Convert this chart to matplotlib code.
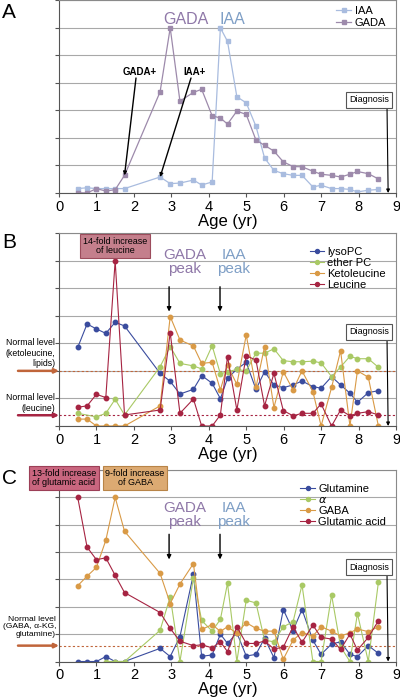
import numpy as np
import matplotlib
matplotlib.use("Agg")
import matplotlib.pyplot as plt

plt.rcParams['font.family'] = ['Liberation Sans', 'DejaVu Sans']

nan = np.nan
ages = [0.5, 0.75, 1.0, 1.25, 1.5, 1.75, 2.7, 2.97, 3.23, 3.59, 3.81, 4.09, 4.31, 4.5, 4.75,
        5.0, 5.26, 5.49, 5.74, 5.99, 6.25, 6.49, 6.78, 7.0, 7.28, 7.52, 7.77, 7.97, 8.26, 8.53]

# panel A: autoantibodies
iaa = [0.16, 0.19, 0.16, 0.16, 0.16, 0.16, 0.58, 0.34, 0.36, 0.47, 0.29, 0.40, 5.99, 5.50, 3.49,
       3.27, 2.42, 1.27, 0.82, 0.70, 0.64, 0.64, 0.22, 0.28, 0.16, 0.16, 0.13, 0.04, 0.10, 0.13]
gada = [0.01, 0.0, 0.16, 0.07, 0.12, 0.64, 3.67, 5.99, 3.33, 3.65, 3.76, 2.80, 2.72, 2.50, 2.97,
        2.85, 1.92, 1.73, 1.52, 1.13, 0.96, 0.95, 0.79, 0.68, 0.64, 0.58, 0.68, 0.78, 0.70, 0.51]

# panel B
lysopc = [2.85, 3.70, 3.52, 3.36, 3.76, 3.63, 1.91, 1.62, 1.16, 1.33, 1.83, 1.55, 0.99, 1.73, 2.06,
          2.31, 1.33, 1.97, 1.49, 1.39, 1.49, 1.63, 1.43, 1.37, 1.79, 1.49, 1.19, 0.86, 1.21, 1.28]
etherpc = [0.46, nan, 0.33, 0.46, 0.97, 0.40, 2.15, 2.88, 2.27, 2.18, 2.07, 2.91, 1.89, 1.97, 2.05,
           2.0, 2.64, 2.64, 2.80, 2.37, 2.33, 2.33, 2.35, 2.29, 1.79, 2.14, 2.53, 2.44, 2.44, 2.13]
ketoleucine = [0.25, 0.25, 0, 0, 0, 0, 0.73, 3.97, 3.12, 2.90, 2.27, 2.31, 1.31, 2.20, 1.51,
               3.30, 1.40, 2.88, 0.67, 1.97, 1.31, 2.0, 1.25, 0, 1.40, 2.73, 0, 2.0, 1.77, 0]
leucine = [0.68, 0.73, 1.15, 1.03, 5.99, 0.40, 0.58, 3.39, 0.46, 0.98, 0, 0, 0.40, 2.52, 0.58,
           2.55, 2.39, 0.73, 1.91, 0.56, 0.37, 0.46, 0.46, 0.80, 0, 0.58, 0.37, 0.46, 0.52, 0.40]
normal_keto = 2.0
normal_leu = 0.39

# panel C
glutamine = [0, 0, 0, 0.18, 0, 0, 0.48, 0.18, 0.91, 3.19, 0.19, 0.24, 1.0, 0.66, 1.05,
             0.20, 0.26, 0.85, 0.14, 1.90, 1.13, 1.90, 0.78, 0.26, 0.64, 0.72, 0.26, 0.18, 0.58, 0.30]
alpha_kg = [nan, nan, nan, 0, 0, 0, 1.14, 2.37, 0, 3.06, 1.50, 1.11, 1.54, 2.86, 0,
            2.24, 2.14, 0.78, 0.72, 1.27, 1.45, 2.80, 0, 0, 2.43, 0.54, 0, 1.75, 0, 2.90]
gaba = [2.77, 3.12, 3.44, 4.43, 6.0, 4.76, 3.22, 2.12, 2.83, 3.58, 1.17, 1.35, 1.1, 1.27, 1.03,
        1.42, 1.21, 1.11, 1.11, 0.08, 0.78, 1.06, 0.93, 1.27, 1.11, 0.93, 1.05, 1.19, 1.09, 1.27]
glutamic = [6.0, 4.18, 3.72, 3.79, 3.15, 2.52, 1.79, 1.21, 0.74, 0.58, 0.61, 0.50, 0.72, 0.36, 1.27,
            0.66, 0.66, 0.75, 0.46, 0.52, 1.27, 0.70, 1.33, 0.88, 0.82, 0.44, 1.0, 0.42, 0.88, 1.49]
normal_c = 0.58

diagnosis_age = 8.79
gada_peak, iaa_peak = 2.94, 4.3

BLUE, GREEN, ORANGE, RED = '#3a4c9e', '#a9c965', '#d99a46', '#a62442'
C_IAA, C_GADA = '#a9bcdf', '#9d8aab'
T_GADA, T_IAA = '#8f78a8', '#7f9fc6'

W, H = 400, 697
fig = plt.figure(figsize=(W / 100, H / 100), dpi=100)


def fx(px):
    return px / W


def fy(py):
    return 1 - py / H


def make_axes(top, bottom):
    ax = fig.add_axes([fx(59), fy(bottom), fx(396) - fx(59), (bottom - top) / H])
    ax.set_xlim(0, 9)
    ax.set_ylim(0, 7)
    ax.set_xticks(range(10))
    ax.set_yticks(range(8))
    ax.set_yticklabels([])
    ax.grid(axis='y', color='#a8a8a8', lw=0.8)
    ax.set_axisbelow(True)
    for s in ax.spines.values():
        s.set_color('#8a8a8a')
    ax.spines['left'].set_color('#555555')
    ax.spines['bottom'].set_color('#555555')
    ax.tick_params(axis='x', labelsize=10.5, length=3, color='#555555', pad=2)
    ax.tick_params(axis='y', length=3, color='#555555')
    ax.set_xlabel('Age (yr)', fontsize=12, labelpad=0)
    return ax


def series(ax, y, color, label, ms=3.2, marker='o', lw=0.8):
    x = np.array(ages)
    y = np.array(y, dtype=float)
    m = ~np.isnan(y)
    ax.plot(x[m], y[m], color=color, lw=lw, marker=marker, ms=ms, label=label)


def diagnosis(ax, box_y):
    fig.text(fx(369), fy(box_y), 'Diagnosis', fontsize=6.5, ha='center', va='center',
             bbox=dict(boxstyle='square,pad=0.35', fc='white', ec='#555555', lw=0.8))
    ax.annotate('', xy=(diagnosis_age, 0), xytext=(fx(387), fy(box_y + 6)),
                textcoords='figure fraction',
                arrowprops=dict(arrowstyle='-|>', color='black', lw=0.8, mutation_scale=5,
                                shrinkA=0, shrinkB=0))


def peaks(ax, y_text, y_arrow_top, y_arrow_bot):
    fig.text(fx(185), fy(y_text), 'GADA\npeak', color=T_GADA, fontsize=11, ha='center',
             va='center', linespacing=1.05)
    fig.text(fx(234), fy(y_text), 'IAA\npeak', color=T_IAA, fontsize=11, ha='center',
             va='center', linespacing=1.05)
    for a in (gada_peak, iaa_peak):
        ax.annotate('', xy=(a, y_arrow_bot), xytext=(a, y_arrow_top),
                    arrowprops=dict(arrowstyle='-|>', color='black', lw=1.0, mutation_scale=6,
                                    shrinkA=0, shrinkB=0))


def normal_arrow(ax, level, color):
    ax.annotate('', xy=(0, level), xycoords=('axes fraction', 'data'),
                xytext=(fx(18), level), textcoords=('figure fraction', 'data'),
                arrowprops=dict(arrowstyle='-|>', color=color, lw=1.8, mutation_scale=6,
                                shrinkA=0, shrinkB=0), annotation_clip=False)
    ax.axhline(level, color=color, lw=0.8, ls=(0, (2, 2)))


# ---------------- A ----------------
axA = make_axes(0, 193)
series(axA, iaa, C_IAA, 'IAA', ms=2.2, marker='s', lw=0.9)
series(axA, gada, C_GADA, 'GADA', ms=2.2, marker='s', lw=0.9)
axA.legend(loc='upper right', bbox_to_anchor=(1.0, 1.02), frameon=False, fontsize=8,
           handlelength=1.4, handletextpad=0.3, labelspacing=0.15)
fig.text(fx(2), fy(12), 'A', fontsize=15, va='center')
fig.text(fx(186), fy(20), 'GADA', color=T_GADA, fontsize=11.5, ha='center', va='center')
fig.text(fx(232), fy(20), 'IAA', color=T_IAA, fontsize=11.5, ha='center', va='center')
fig.text(fx(140), fy(72), 'GADA+', fontsize=7, fontweight='bold', ha='center', va='center')
fig.text(fx(195), fy(72), 'IAA+', fontsize=7, fontweight='bold', ha='center', va='center')
axA.annotate('', xy=(ages[5], gada[5]), xytext=(fx(136), fy(78)), textcoords='figure fraction',
             arrowprops=dict(arrowstyle='-|>', color='black', lw=1.0, mutation_scale=5,
                             shrinkA=0, shrinkB=0))
axA.annotate('', xy=(ages[6], iaa[6]), xytext=(fx(191), fy(78)), textcoords='figure fraction',
             arrowprops=dict(arrowstyle='-|>', color='black', lw=1.0, mutation_scale=5,
                             shrinkA=0, shrinkB=0))
diagnosis(axA, 100)

# ---------------- B ----------------
axB = make_axes(233, 426)
normal_arrow(axB, normal_keto, '#c0653a')
normal_arrow(axB, normal_leu, '#a62442')
series(axB, lysopc, BLUE, 'lysoPC')
series(axB, etherpc, GREEN, 'ether PC')
series(axB, ketoleucine, ORANGE, 'Ketoleucine')
series(axB, leucine, RED, 'Leucine')
axB.legend(loc='upper right', bbox_to_anchor=(1.0, 0.98), frameon=False, fontsize=8,
           handlelength=1.3, handletextpad=0.3, labelspacing=0.1, markerscale=0.9)
fig.text(fx(2), fy(243), 'B', fontsize=15, va='center')
fig.text(fx(115), fy(246), '14-fold increase\nof leucine', fontsize=6.5, ha='center', va='center',
         linespacing=0.95,
         bbox=dict(boxstyle='square,pad=0.3', fc='#c47f8c', ec='#9c4c5c', lw=0.8))
peaks(axB, 262, 5.05, 4.15)
fig.text(fx(55), fy(353), 'Normal level\n(ketoleucine,\nlipids)', fontsize=6.3, ha='right',
         va='center', linespacing=1.15)
fig.text(fx(55), fy(403), 'Normal level\n(leucine)', fontsize=6.3, ha='right', va='center',
         linespacing=1.15)
diagnosis(axB, 332)

# ---------------- C ----------------
axC = make_axes(470, 661.5)
normal_arrow(axC, normal_c, '#c0653a')
series(axC, glutamine, BLUE, 'Glutamine')
series(axC, alpha_kg, GREEN, r'$\alpha$')
series(axC, gaba, ORANGE, 'GABA')
series(axC, glutamic, RED, 'Glutamic acid')
axC.legend(loc='upper right', bbox_to_anchor=(1.0, 0.98), frameon=False, fontsize=8,
           handlelength=1.3, handletextpad=0.3, labelspacing=0.1, markerscale=0.9)
fig.text(fx(2), fy(479), 'C', fontsize=15, va='center')
fig.text(fx(64), fy(478), '13-fold increase\nof glutamic acid', fontsize=6.5, ha='center',
         va='center', linespacing=0.95,
         bbox=dict(boxstyle='square,pad=0.3', fc='#c9667f', ec='#9c3f57', lw=0.8))
fig.text(fx(135), fy(478), '9-fold increase\nof GABA', fontsize=6.5, ha='center', va='center',
         linespacing=0.95,
         bbox=dict(boxstyle='square,pad=0.3', fc='#dcaa72', ec='#b88447', lw=0.8))
peaks(axC, 515, 4.65, 3.73)
fig.text(fx(56), fy(627), 'Normal level\n(GABA, \u03b1-KG,\nglutamine)', fontsize=6.1, ha='right',
         va='center', linespacing=1.15)
diagnosis(axC, 567)

fig.savefig('out.png', dpi=100)
